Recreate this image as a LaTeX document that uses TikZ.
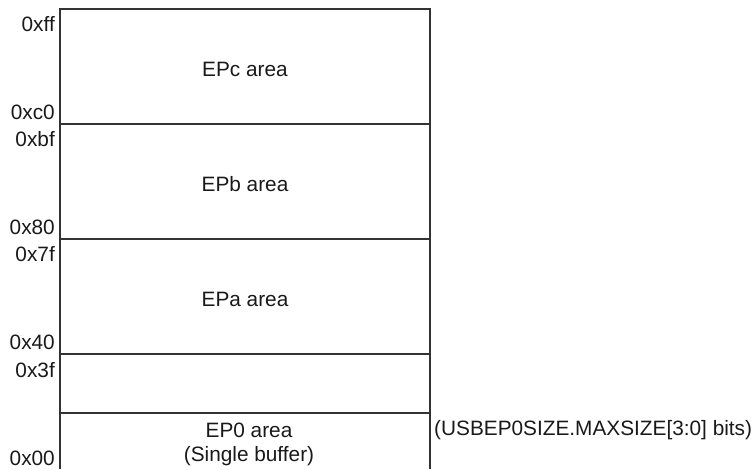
\documentclass[tikz,border=0pt]{standalone}
\usepackage{fontspec}
\setmainfont{Liberation Sans}
\begin{document}
\begin{tikzpicture}[x=1pt,y=-1pt,
  memline/.style={draw=black!80, line width=1.1pt},
  lbl/.style={inner sep=0pt, text=black!90, font=\fontsize{20.8}{25}\selectfont},
  addr/.style={lbl, anchor=base east},
  area/.style={lbl, anchor=base}]
\useasboundingbox (0,0) rectangle (755,469);
% box frame
\coordinate (tl) at (60,9);
\coordinate (tr) at (430,9);
\coordinate (bl) at (60,469);
\coordinate (br) at (430,469);
\coordinate (l1) at (60,124); \coordinate (r1) at (430,124);
\coordinate (l2) at (60,239); \coordinate (r2) at (430,239);
\coordinate (l3) at (60,354); \coordinate (r3) at (430,354);
\coordinate (l4) at (60,413); \coordinate (r4) at (430,413);
\draw[memline] (bl) -- (tl) -- (tr) -- (br);
\draw[memline] (l1) -- (r1);
\draw[memline] (l2) -- (r2);
\draw[memline] (l3) -- (r3);
\draw[memline] (l4) -- (r4);
% addresses
\node[addr] (aff) at (55,31) {0xff};
\node[addr] (ac0) at (55,119) {0xc0};
\node[addr] (abf) at (55,146) {0xbf};
\node[addr] (a80) at (55,234) {0x80};
\node[addr] (a7f) at (55,261) {0x7f};
\node[addr] (a40) at (55,349) {0x40};
\node[addr] (a3f) at (55,377) {0x3f};
\node[addr] (a00) at (55,465) {0x00};
% areas
\node[area] (epc) at (245,76) {EPc area};
\node[area] (epb) at (245,191) {EPb area};
\node[area] (epa) at (245,306) {EPa area};
\node[area] (ep0) at (249,437) {EP0 area};
\node[area] (sb) at (249,461) {(Single buffer)};
\node[lbl, anchor=base west] (note) at (434,435) {(USBEP0SIZE.MAXSIZE[3:0] bits)};
\end{tikzpicture}
\end{document}
